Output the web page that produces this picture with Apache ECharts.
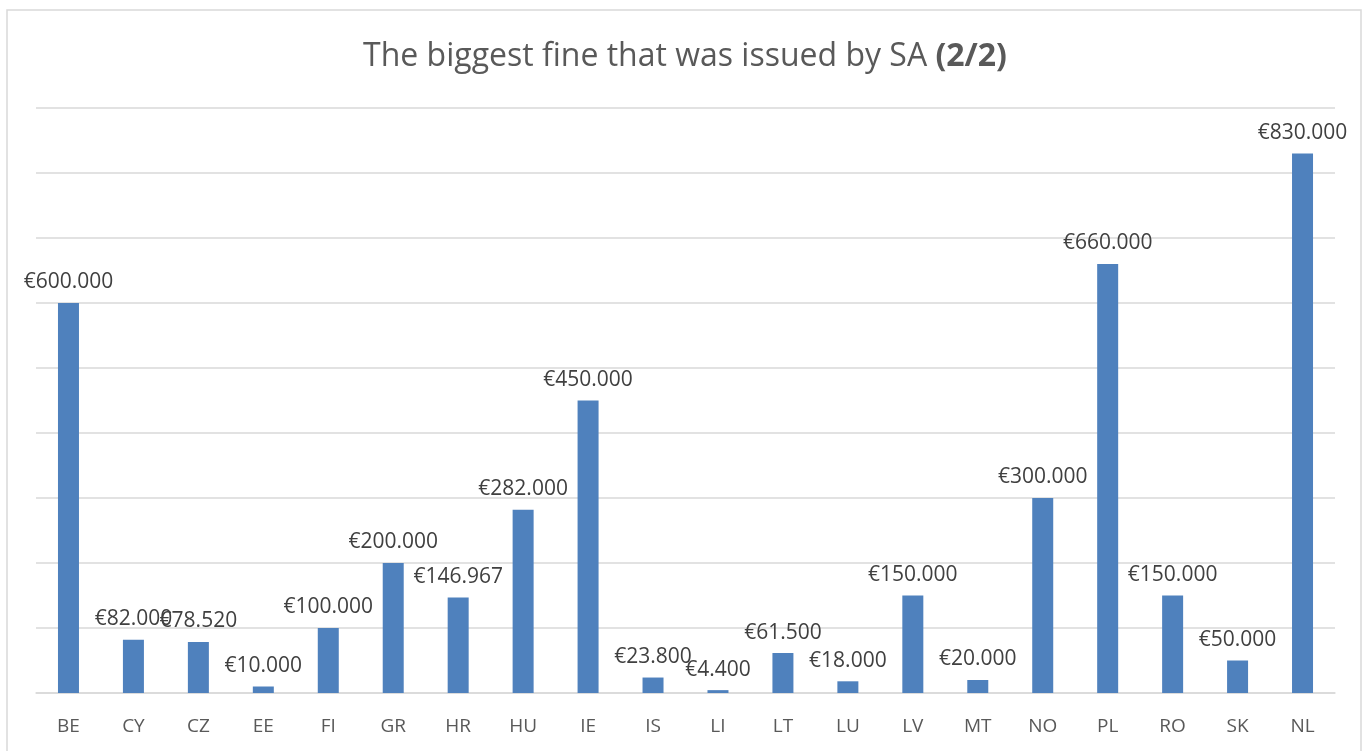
<!DOCTYPE html>
<html>
<head>
<meta charset="utf-8">
<script src="https://cdn.jsdelivr.net/npm/echarts@6/dist/echarts.min.js"></script>
<style>
  html, body { margin: 0; padding: 0; background: #fff; }
  #chart { width: 1370px; height: 751px; }
</style>
</head>
<body>
<div id="chart"></div>
<script>
  // countries (SA) and their biggest fine in euro
  var countries = ['BE', 'CY', 'CZ', 'EE', 'FI', 'GR', 'HR', 'HU', 'IE', 'IS',
                   'LI', 'LT', 'LU', 'LV', 'MT', 'NO', 'PL', 'RO', 'SK', 'NL'];
  var fines = [600000, 82000, 78520, 10000, 100000, 200000, 146967, 282000, 450000, 23800,
               4400, 61500, 18000, 150000, 20000, 300000, 660000, 150000, 50000, 830000];

  function euro(v) {
    // 600000 -> €600.000
    return '€' + String(v).replace(/\B(?=(\d{3})+(?!\d))/g, '.');
  }

  var chart = echarts.init(document.getElementById('chart'));
  var font = '"Open Sans", "Liberation Sans", sans-serif';
  var option = {
    animation: false,
    backgroundColor: '#fff',
    graphic: [{
      type: 'rect',
      shape: { x: 7, y: 10, width: 1354, height: 760 },
      style: { fill: 'none', stroke: '#d9d9d9', lineWidth: 1.5 },
      silent: true
    }],
    title: {
      text: 'The biggest fine that was issued by SA {b|(2/2)}',
      left: 'center',
      top: 36,
      textStyle: {
        fontFamily: font,
        fontWeight: 'normal',
        fontSize: 32,
        color: '#595959',
        rich: {
          b: { fontFamily: font, fontWeight: 'bold', fontSize: 32, color: '#595959' }
        }
      }
    },
    grid: {
      left: 36,
      right: 35,
      top: 108,
      bottom: 58
    },
    xAxis: {
      type: 'category',
      data: countries,
      axisTick: { show: false },
      axisLine: { lineStyle: { color: '#d9d9d9', width: 1.5 } },
      axisLabel: {
        margin: 24,
        fontFamily: font,
        fontSize: 19,
        color: '#595959'
      }
    },
    yAxis: {
      type: 'value',
      min: 0,
      max: 900000,
      interval: 100000,
      axisLabel: { show: false },
      axisLine: { show: false },
      axisTick: { show: false },
      splitLine: { lineStyle: { color: '#d9d9d9', width: 1.5 } }
    },
    series: [{
      type: 'bar',
      data: fines,
      barWidth: 21,
      itemStyle: { color: '#4f81bd' },
      label: {
        show: true,
        position: 'top',
        distance: 10,
        fontFamily: font,
        fontSize: 21,
        color: '#404040',
        formatter: function (p) { return euro(p.value); }
      }
    }]
  };
  chart.setOption(option);
</script>
</body>
</html>
